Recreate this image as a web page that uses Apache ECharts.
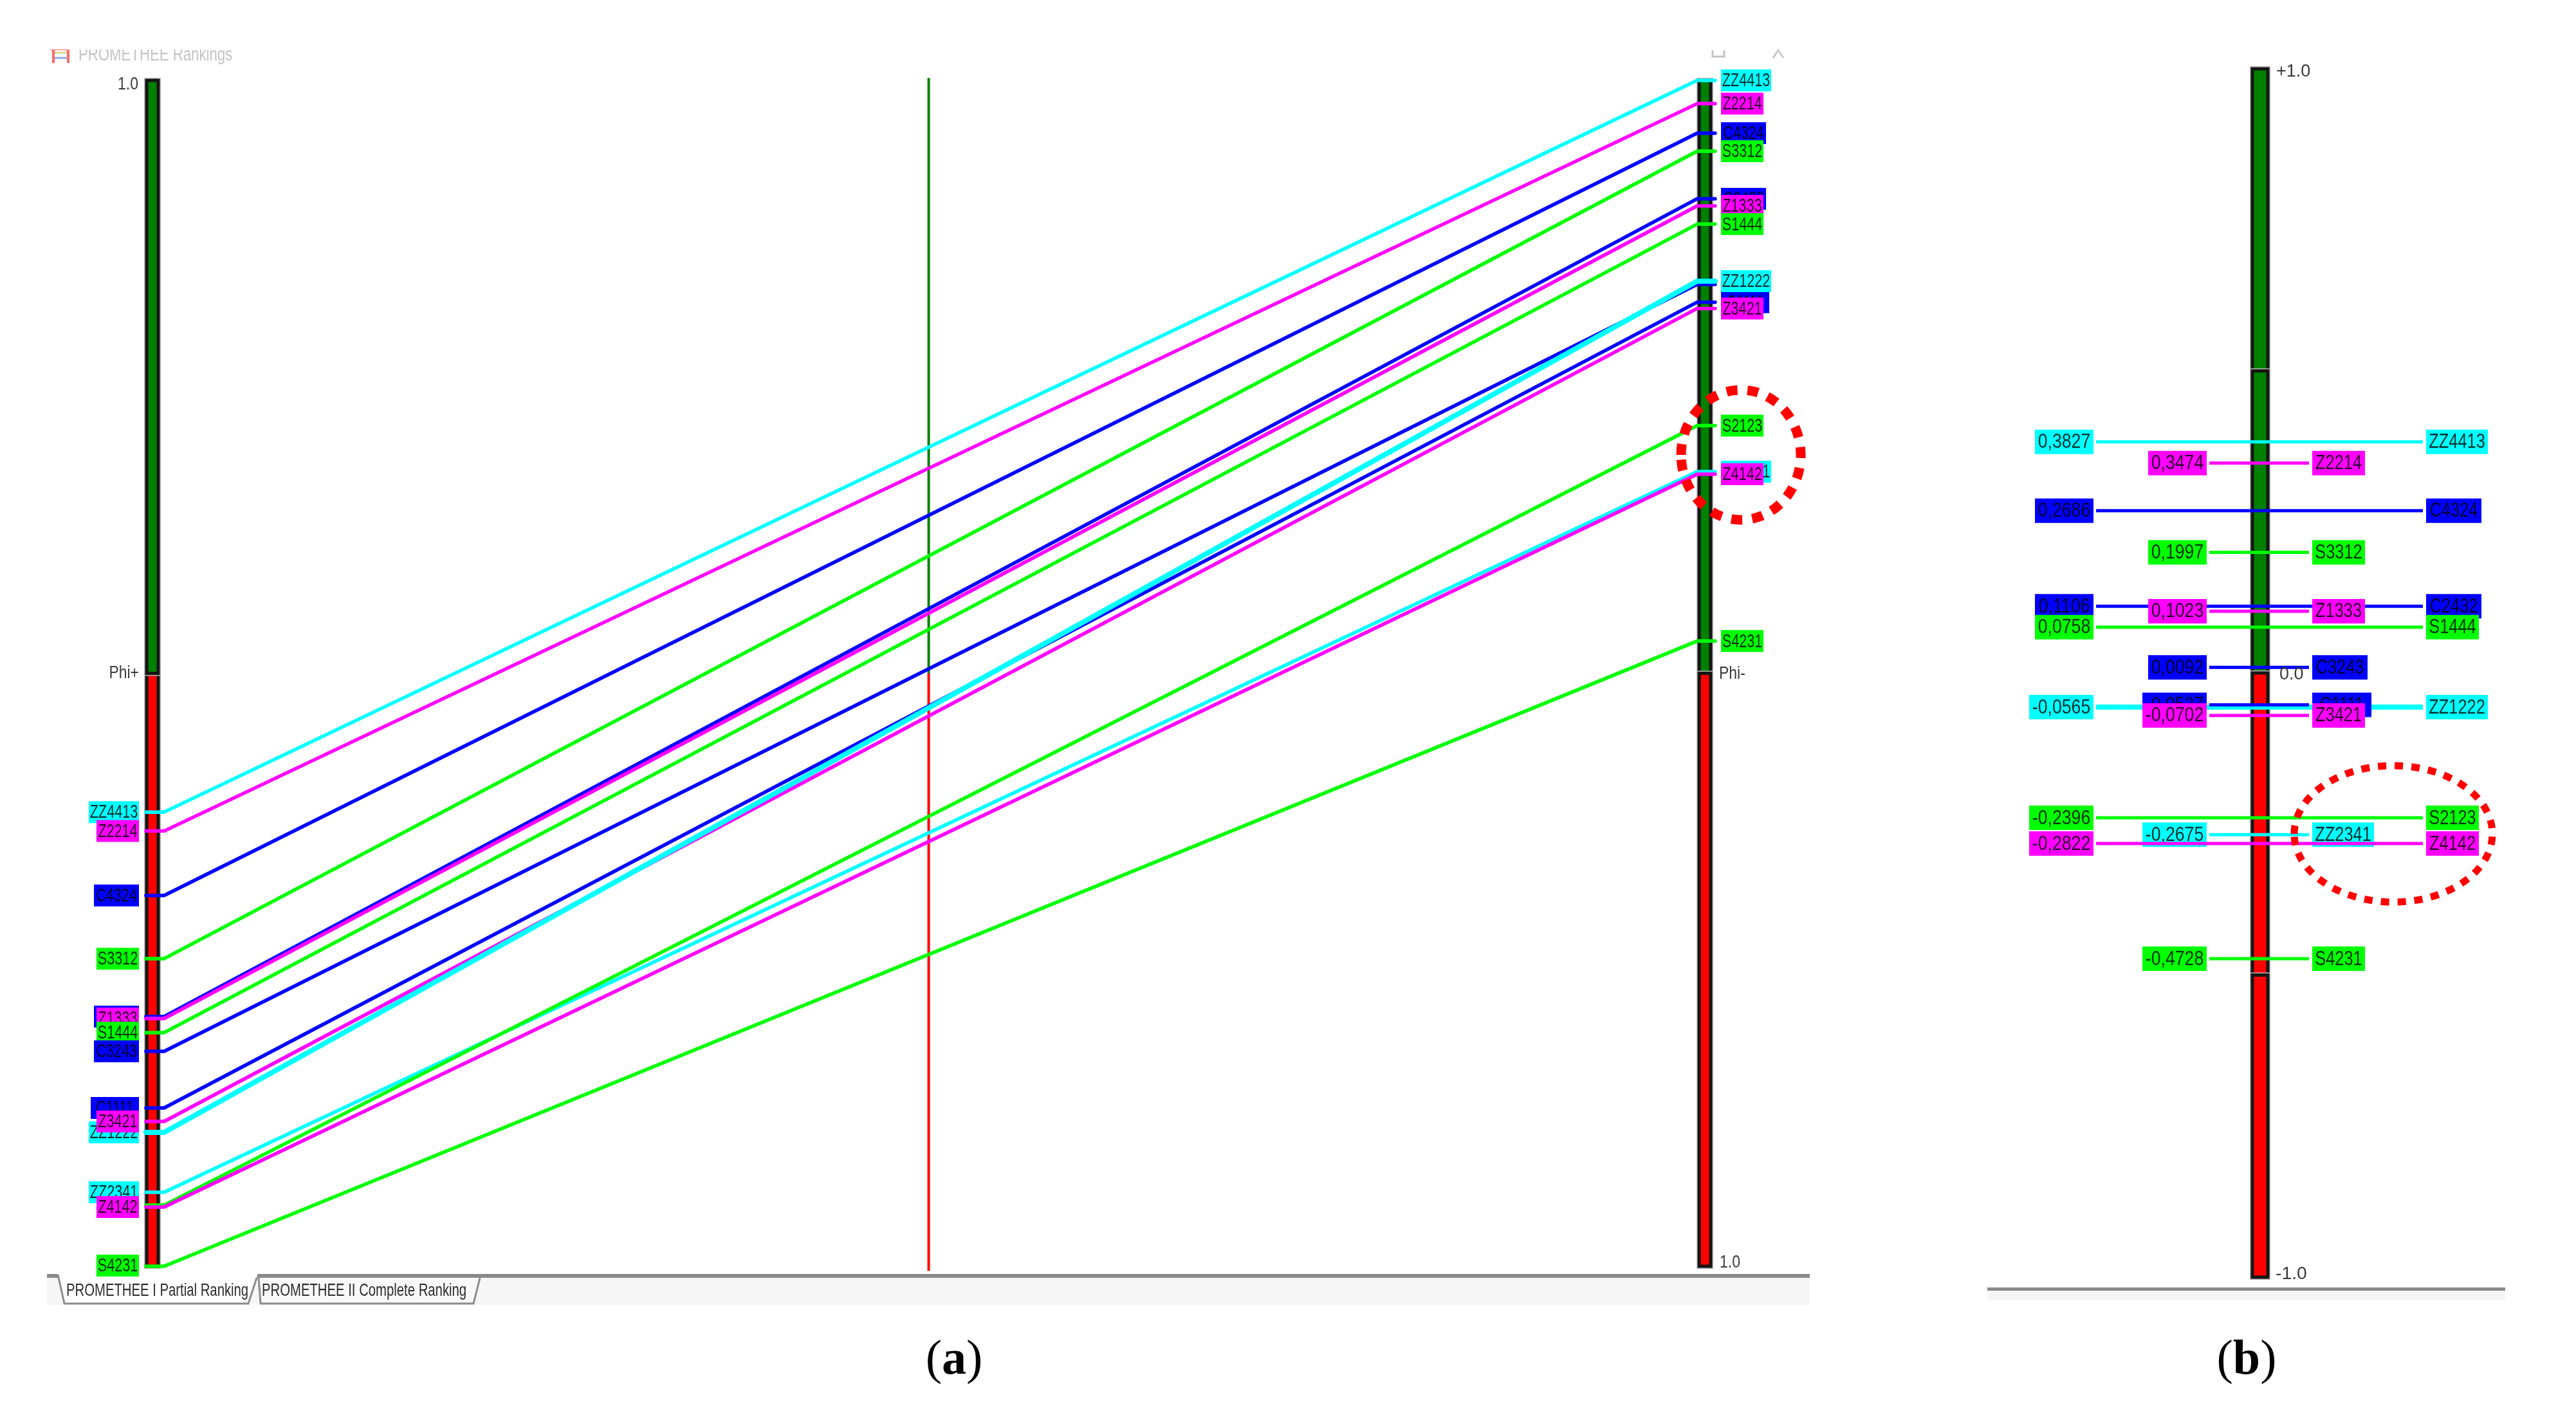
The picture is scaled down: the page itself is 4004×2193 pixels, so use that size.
<!DOCTYPE html>
<html><head><meta charset="utf-8">
<style>html,body{margin:0;padding:0;background:#fff}#c{width:4004px;height:2193px}</style>
<script src="https://cdn.jsdelivr.net/npm/echarts@6/dist/echarts.min.js"></script>
</head><body><div id="c"></div>
<script>
// ---- data ----
const names      = ['ZZ4413','Z2214','C4324','S3312','C2432','Z1333','S1444','C3243','C1111','Z3421','ZZ1222','ZZ2341','S2123','Z4142','S4231'];
const colorKeys  = ['c','m','b','g','b','m','g','b','b','m','c','c','g','m','g'];
const phiPlus    = [0.383,0.367,0.3127,0.2594,0.2105,0.2089,0.197,0.1812,0.1335,0.1221,0.1128,0.0624,0.0515,0.0499,0];
const phiMinus   = [0,0.0196,0.0445,0.0597,0.0998,0.1058,0.1212,0.172,0.187,0.1923,0.1693,0.3299,0.2911,0.3321,0.4728];
const phiNet     = [0.3827,0.3474,0.2686,0.1997,0.1106,0.1023,0.0758,0.0092,-0.0527,-0.0702,-0.0565,-0.2675,-0.2396,-0.2822,-0.4728];
const netIsLong  = [1,0,1,0,1,0,1,0,0,0,1,0,1,1,0];
const leftOrder  = ['ZZ4413','Z2214','C4324','S3312','C2432','Z1333','S1444','C3243','C1111','ZZ1222','Z3421','S2123','ZZ2341','Z4142','S4231'];
const rightOrder = ['ZZ4413','Z2214','C4324','S3312','C2432','Z1333','S1444','C3243','C1111','ZZ1222','Z3421','S2123','ZZ2341','Z4142','S4231'];
const netOrder   = ['ZZ4413','Z2214','C4324','S3312','C2432','Z1333','S1444','C3243','ZZ1222','C1111','Z3421','S2123','ZZ2341','Z4142','S4231'];
const tabTitles  = ['PROMETHEE I Partial Ranking','PROMETHEE II Complete Ranking'];
// ------------------------------------
const COL = {c:'#00ffff',m:'#ff00ff',b:'#0000ff',g:'#00ff00'};
const GREEN='#008000', RED='#ff0000';
const SANS='"Liberation Sans",sans-serif';
const idx = n => names.indexOf(n);
const boxW = (n,base) => (n==='C1111'?base+9:n.length===6?base+12:n.charAt(0)==='C'?base+4:base);

// column positions on panel (a)'s x axis
const X_LEFT=0, X_MID=50, X_RIGHT=100;

function barSeries(gridIndex, x, halfW, segs){
  return {type:'custom',xAxisIndex:gridIndex,yAxisIndex:gridIndex,z:1,silent:true,clip:false,
    data:segs,
    renderItem(p,api){
      const a=api.coord([x-halfW,api.value(1)]), b=api.coord([x+halfW,api.value(0)]);
      const rect={x:a[0],y:a[1],width:b[0]-a[0],height:b[1]-a[1]};
      const fill=segs[p.dataIndex][2];
      return {type:'group',children:[
        {type:'rect',shape:rect,style:{fill:'none',stroke:'#b4b4b4',lineWidth:8}},
        {type:'rect',shape:rect,style:{fill:fill,stroke:'#151515',lineWidth:5}}
      ]};
    }};
}
const squeezed=(t,x,y,size,sx,align)=>({type:'text',x,y,scaleX:sx,style:{text:t,x:0,y:0,align:align||'center',verticalAlign:'middle',fill:'#000',opacity:.82,font:size+'px '+SANS}});
function labelSeries(order, side){
  // side: -1 left column (boxes to the left), +1 right column
  return {type:'custom',xAxisIndex:0,yAxisIndex:0,z:6,silent:true,clip:false,
    data:order.map(n=>{const i=idx(n);return [side<0?X_LEFT:X_RIGHT, side<0?phiPlus[i]:1-phiMinus[i], i];}),
    renderItem(p,api){
      const i=api.value(2), n=names[i], c=api.coord([api.value(0),api.value(1)]);
      const w=boxW(n,66), h=34;
      const x0=side<0?c[0]-21-w:c[0]+25;
      const ty=c[1]+(n==='S4231'&&side<0?-1:0);
      return {type:'group',children:[
        {type:'rect',shape:{x:x0,y:ty-h/2,width:w,height:h},style:{fill:COL[colorKeys[i]]}},
        squeezed(n,x0+w/2,ty+1,30,.72)
      ]};
    }};
}
const rankLines = names.map((n,i)=>({
  type:'line',xAxisIndex:0,yAxisIndex:0,z:3,clip:false,silent:true,symbol:'none',animation:false,
  lineStyle:{color:COL[colorKeys[i]],width:n==='ZZ1222'?8:5.5,cap:'round',join:'round'},
  data:[[-0.42,phiPlus[i]],[0.75,phiPlus[i]],[99.5,1-phiMinus[i]],[100.66,1-phiMinus[i]]]
}));
const midLines=[
  {type:'line',xAxisIndex:0,yAxisIndex:0,z:2,clip:false,silent:true,symbol:'none',lineStyle:{color:GREEN,width:4},data:[[X_MID,0.5],[X_MID,1.002]]},
  {type:'line',xAxisIndex:0,yAxisIndex:0,z:2,clip:false,silent:true,symbol:'none',lineStyle:{color:RED,width:4},data:[[X_MID,-0.004],[X_MID,0.5]]}
];
// panel (b) item: a horizontal line plus a value label and a name label, drawn in order
const netItems={type:'custom',xAxisIndex:1,yAxisIndex:1,z:5,silent:true,clip:false,
  data:netOrder.map(n=>{const i=idx(n);return [phiNet[i],i,netIsLong[i]];}),
  renderItem(p,api){
    const v=api.value(0), i=api.value(1), long=api.value(2), n=names[i], col=COL[colorKeys[i]];
    const L=api.coord([long?-255:-79,v]), R=api.coord([long?253:76,v]);
    const valTxt=v.toFixed(4).replace('.',',');
    const vw=valTxt.charAt(0)==='-'?100:91, nw=n==='C1111'?92:n.length===6?96:n.charAt(0)==='C'?86:82;
    const h=38, y=L[1];
    const vx=L[0]-4-vw, nx=R[0]+5;
    const lw=n==='ZZ1222'?8:5;
    return {type:'group',children:[
      {type:'line',shape:{x1:L[0],y1:y,x2:R[0],y2:y},style:{stroke:col,lineWidth:lw}},
      {type:'rect',shape:{x:vx,y:y-h/2,width:vw,height:h},style:{fill:col}},
      {type:'rect',shape:{x:nx,y:y-h/2,width:nw,height:h},style:{fill:col}},
      squeezed(valTxt,vx+vw/2,y+1,31,.86),
      squeezed(n,nx+nw/2,y+1,31,.82)
    ]};
  }};

const axisText=(t,x,y,align,sx)=>({type:'text',z:20,x,y,scaleX:sx||.85,style:{text:t,x:0,y:0,align:align||'left',verticalAlign:'middle',fill:'#3a3a3a',font:'27px '+SANS}});
const rect=(x,y,w,h,fill,z)=>({type:'rect',z:z||0,shape:{x,y,width:w,height:h},style:{fill}});
const poly=(pts,fill,stroke,w,z)=>({type:'polyline',z:z||0,shape:{points:pts},style:{fill:fill||'none',stroke,lineWidth:w}});
const tabText=(t,x)=>({type:'text',z:21,x,y:2006,scaleX:.725,style:{text:t,x:0,y:0,verticalAlign:'middle',fill:'#2c2c2c',font:'28px '+SANS}});

const graphic=[
  // window chrome of panel (a)
  {type:'text',z:19,x:122,y:86,scaleX:.765,style:{text:'PROMETHEE Rankings',x:0,y:0,verticalAlign:'middle',fill:'#c4c4c4',font:'29px '+SANS}},
  rect(78,64,30,14,'#ff5a5a',19),
  poly([[83,72],[83,98]],null,'#ff6a6a',4,19),poly([[106,72],[106,98]],null,'#ff6a6a',4,19),poly([[85,90],[104,90]],null,'#8fa8d8',3,19),poly([[85,82],[104,82]],null,'#d8d890',3,19),
  rect(60,50,340,27,'#ffffff',20),
  poly([[2662,78],[2662,88],[2680,88],[2680,78]],null,'#c4c4c4',3,19),
  poly([[2756,90],[2764,78],[2772,90]],null,'#c8c8c8',3,19),
  // tab strip of panel (a)
  rect(73,1986,2740,42,'#f6f6f6',1),
  rect(73,1980,2740,6,'#8a8a8a',2),
  {type:'polygon',z:3,shape:{points:[[90,1980],[100,2026],[386,2026],[400,1980]]},style:{fill:'#ffffff',stroke:'#ffffff',lineWidth:1}},
  poly([[90,1981],[100,2026],[386,2026],[399,1986]],null,'#8c8c8c',3,4),
  {type:'polygon',z:3,shape:{points:[[402,1986],[404,2026],[736,2026],[746,1986]]},style:{fill:'#f8f8f8'}},
  poly([[402,1986],[405,2026],[736,2026],[746,1986]],null,'#8c8c8c',3,4),
  tabText(tabTitles[0],103), tabText(tabTitles[1],407),
  // scale labels of panel (a)
  axisText('1.0',215,132,'right'), axisText('Phi+',216,1047,'right'),
  axisText('Phi-',2672,1048), axisText('1.0',2673,1963),
  // panel (b) scale labels and base strip
  axisText('+1.0',3538,112,'left',1), axisText('0.0',3543,1049,'left',1), axisText('-1.0',3537,1981,'left',1.05),
  rect(3089,2006,805,14,'#f6f6f6',1),
  rect(3089,2001,805,5,'#8a8a8a',2),
  // red dashed circles
  {type:'ellipse',z:30,shape:{cx:2706,cy:707,rx:93,ry:101},style:{fill:'none',stroke:'#ff0000',lineWidth:15,lineDash:[17,15.5]}},
  {type:'ellipse',z:30,shape:{cx:3720,cy:1296,rx:154,ry:106},style:{fill:'none',stroke:'#ff0000',lineWidth:11,lineDash:[13,13]}},
  // captions
  {type:'text',z:30,style:{x:1483,y:2115,align:'center',verticalAlign:'middle',text:'{r|(}{bold|a}{r|)}',rich:{r:{font:'76px "Liberation Serif",serif',fill:'#000'},bold:{font:'bold 76px "Liberation Serif",serif',fill:'#000'}}}},
  {type:'text',z:30,style:{x:3492,y:2115,align:'center',verticalAlign:'middle',text:'{r|(}{bold|b}{r|)}',rich:{r:{font:'76px "Liberation Serif",serif',fill:'#000'},bold:{font:'bold 76px "Liberation Serif",serif',fill:'#000'}}}}
];

const chart=echarts.init(document.getElementById('c'),null,{renderer:'canvas',width:4004,height:2193});
const hiddenAxis={show:false,axisLine:{show:false},axisTick:{show:false},axisLabel:{show:false},splitLine:{show:false}};
chart.setOption({
  animation:false,
  backgroundColor:'#ffffff',
  grid:[
    {left:212.87,width:2461.3,top:125,height:1843},
    {left:3150,width:750,top:107,height:1878}
  ],
  xAxis:[
    {type:'value',gridIndex:0,min:-1,max:101,...hiddenAxis},
    {type:'value',gridIndex:1,min:-363,max:387,...hiddenAxis}
  ],
  yAxis:[
    {type:'value',gridIndex:0,min:0,max:1,...hiddenAxis},
    {type:'value',gridIndex:1,min:-1,max:1,...hiddenAxis}
  ],
  graphic,
  series:[
    barSeries(0,X_LEFT,0.37,[[0,0.5,RED],[0.5,1,GREEN]]),
    barSeries(0,X_RIGHT,0.37,[[0.5,1,GREEN],[0,0.5,RED]]),
    barSeries(1,0,12,[[0.5,1,GREEN],[0,0.5,GREEN],[-0.5,0,RED],[-1,-0.5,RED]]),
    ...midLines,
    ...rankLines,
    labelSeries(leftOrder,-1),
    labelSeries(rightOrder,1),
    netItems
  ]
});
</script></body></html>
